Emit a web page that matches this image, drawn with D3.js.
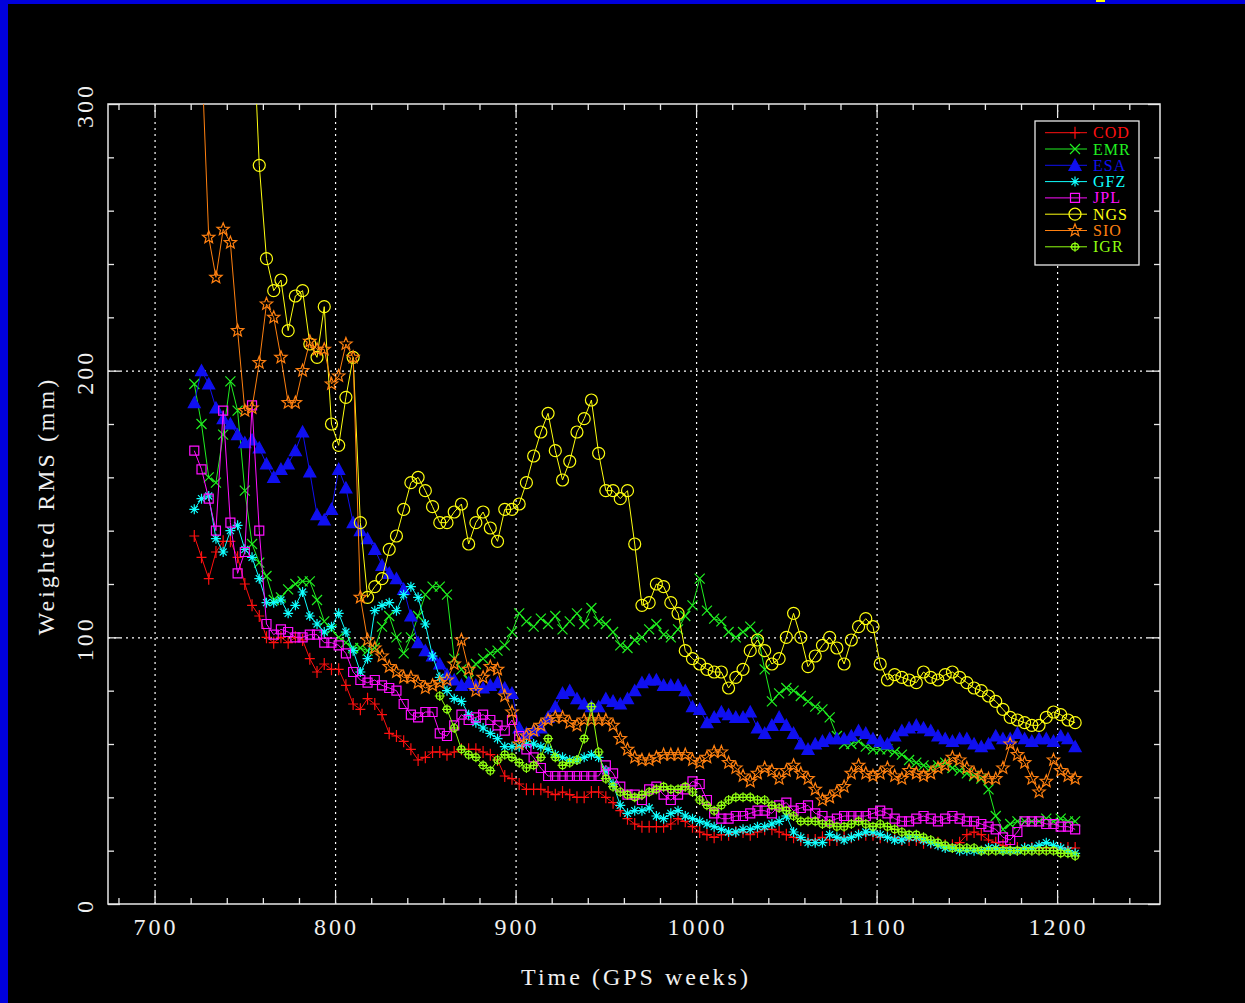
<!DOCTYPE html>
<html lang="en">
<head>
<meta charset="UTF-8">
<script src="https://d3js.org/d3.v7.min.js"></script>
<style>
body { margin: 0; background: #000; }
svg { display: block; }
.lbl { font-family: "Liberation Serif", "DejaVu Serif", serif; fill: #f0f0f0; }
</style>
</head>
<body>
<svg width="1245" height="1003"></svg>
<script>
// GPS weeks, one reading every 4 weeks
const weeks = [
  722,726,730,734,738,742,746,750,754,758,
  762,766,770,774,778,782,786,790,794,798,
  802,806,810,814,818,822,826,830,834,838,
  842,846,850,854,858,862,866,870,874,878,
  882,886,890,894,898,902,906,910,914,918,
  922,926,930,934,938,942,946,950,954,958,
  962,966,970,974,978,982,986,990,994,998,
  1002,1006,1010,1014,1018,1022,1026,1030,1034,1038,
  1042,1046,1050,1054,1058,1062,1066,1070,1074,1078,
  1082,1086,1090,1094,1098,1102,1106,1110,1114,1118,
  1122,1126,1130,1134,1138,1142,1146,1150,1154,1158,
  1162,1166,1170,1174,1178,1182,1186,1190,1194,1198,
  1202,1206,1210
];

// weighted RMS (mm) per analysis centre
const cod = [
  138,130,122,132,136,136,130,120,112,108,
  100,98,100,98,100,99,92,87,90,88,
  88,82,75,73,77,75,71,64,63,61,
  58,54,55,57,57,56,57,58,58,58,
  57,56,54,48,47,45,43,43,43,42,
  41,42,41,40,40,42,42,40,38,35,
  32,30,29,29,29,29,30,32,31,29,
  27,26,25,26,26,27,27,26,27,28,
  28,27,26,25,24,24,24,25,24,24,
  25,25,26,26,26,25,25,25,24,24,
  24,23,23,23,22,22,23,26,27,26,
  24,23,22,21,21,21,21,21,21,21,
  21,21,21
];
const emr = [
  195,180,160,158,176,196,185,155,135,128,
  123,114,115,118,120,121,121,114,106,103,
  100,98,96,96,95,96,104,108,100,94,
  100,108,116,119,119,116,92,88,84,90,
  92,94,95,97,102,109,106,104,107,105,
  108,103,106,109,105,111,106,105,102,97,
  96,99,100,103,105,101,100,103,108,112,
  122,110,107,106,102,100,102,104,101,88,
  76,79,81,80,78,76,74,73,70,63,
  60,60,61,59,58,58,58,57,56,54,
  53,52,51,52,53,51,50,49,48,47,
  43,33,28,30,31,31,31,31,32,31,
  32,31,31
];
const esa = [
  188,200,195,186,182,180,176,173,174,171,
  165,160,163,165,170,177,162,146,144,148,
  163,156,143,140,137,133,127,124,122,118,
  108,98,95,93,90,86,84,82,83,82,
  81,82,83,81,79,66,64,65,66,70,
  74,79,80,77,75,74,74,77,76,75,
  77,80,83,84,84,82,82,82,80,74,
  73,68,70,72,71,70,70,72,66,64,
  67,70,67,64,60,58,60,61,62,62,
  62,63,65,64,62,61,60,63,65,66,
  67,66,65,63,62,61,62,62,60,59,
  60,63,62,62,64,62,61,62,62,61,
  63,62,59
];
const gfz = [
  148,152,153,137,132,140,142,133,130,122,
  113,113,114,109,112,117,108,105,102,104,
  109,102,95,87,92,110,112,113,110,116,
  119,115,105,93,85,80,77,76,71,68,
  66,64,62,59,59,59,60,60,59,58,
  56,55,54,54,55,56,55,50,45,37,
  34,35,35,36,33,32,34,35,33,32,
  31,30,29,28,27,27,28,28,29,29,
  30,31,33,27,25,23,23,23,26,25,
  24,25,26,27,27,26,25,24,24,25,
  25,24,23,22,21,21,20,20,20,20,
  21,21,20,20,20,21,21,22,23,22,
  21,20,19
];
const jpl = [
  170,163,152,140,185,143,124,132,187,140,
  105,101,103,102,100,100,101,101,98,98,
  97,94,87,84,83,84,82,81,80,75,
  71,70,72,72,64,63,67,71,69,70,
  71,69,67,65,69,63,58,55,51,48,
  48,48,48,48,48,48,48,52,49,44,
  41,41,39,43,44,41,39,41,43,46,
  45,39,34,32,32,33,33,34,35,35,
  34,37,38,35,36,37,34,33,31,32,
  33,33,33,33,34,35,34,32,31,31,
  32,33,32,31,32,33,32,31,31,30,
  29,28,25,24,27,31,31,31,30,30,
  29,29,28
];
const ngs = [
  null,null,null,null,null,null,null,null,340,277,
  242,230,234,215,228,230,210,205,224,180,
  172,190,205,143,115,119,122,133,138,148,
  158,160,155,149,143,143,147,150,135,143,
  147,141,136,148,148,150,158,168,177,184,
  170,159,166,177,182,189,169,155,155,152,
  155,135,112,113,120,119,113,109,95,92,
  90,88,87,87,81,85,88,95,99,95,
  90,92,100,109,100,89,93,97,100,96,
  90,99,104,107,104,90,84,86,85,84,
  83,87,85,84,86,87,85,83,81,80,
  78,76,73,70,69,68,67,67,70,72,
  71,69,68
];
const sio = [
  null,320,250,235,253,248,215,185,186,203,
  225,220,205,188,188,200,211,208,208,195,
  198,210,205,115,99,96,93,89,87,85,
  85,83,81,82,83,84,90,99,88,80,
  85,89,88,78,72,60,63,65,67,69,
  70,70,68,67,69,69,69,69,67,62,
  58,55,54,54,55,56,56,56,56,54,
  53,55,57,57,53,51,48,46,49,51,
  50,47,50,52,49,47,43,39,40,42,
  44,49,52,49,48,49,51,48,47,50,
  49,48,49,51,52,55,54,51,49,48,
  47,47,51,60,56,53,47,42,46,54,
  50,48,47
];
const igr = [
  null,null,null,null,null,null,null,null,null,null,
  null,null,null,null,null,null,null,null,null,null,
  null,null,null,null,null,null,null,null,null,null,
  null,null,null,null,78,73,66,58,56,55,
  52,50,54,56,55,53,51,52,55,62,
  55,52,53,54,62,74,57,47,44,42,
  41,40,41,42,43,44,43,43,44,42,
  39,37,35,37,39,40,40,40,39,39,
  37,36,35,33,31,31,31,30,30,29,
  29,30,31,30,29,30,29,28,27,26,
  26,25,24,23,22,21,21,21,21,20,
  20,20,20,20,20,20,20,20,20,20,
  19,19,18
];

const centres = ["COD", "EMR", "ESA", "GFZ", "JPL", "NGS", "SIO", "IGR"];
const values = [cod, emr, esa, gfz, jpl, ngs, sio, igr];
const xMajor = [700, 800, 900, 1000, 1100, 1200];
const xMinor = [680, 720, 740, 760, 780, 820, 840, 860, 880, 920, 940, 960, 980,
  1020, 1040, 1060, 1080, 1120, 1140, 1160, 1180, 1220, 1240];
const yMajor = [0, 100, 200, 300];
const yMinor = [20, 40, 60, 80, 120, 140, 160, 180, 220, 240, 260, 280];

const colours = ["#ff1010", "#20f020", "#1010f0", "#10ffff", "#ff10ff", "#ffff10", "#ff8010", "#90ff10"];
const shapes = ["plus", "cross", "triangle", "asterisk", "square", "circle", "star", "igr"];

const W = 1245, H = 1003;
const pL = 108, pR = 1160, pT = 104, pB = 904;

const svg = d3.select("svg");
svg.append("rect").attr("width", W).attr("height", H).attr("fill", "#000");
// blue slide border (with the clipped edge of a yellow title glyph)
svg.append("rect").attr("width", W).attr("height", 4).attr("fill", "#0000dc");
svg.append("rect").attr("width", 8).attr("height", H).attr("fill", "#0000dc");
svg.append("rect").attr("x", 1096).attr("width", 9).attr("height", 2).attr("fill", "#ffff00");

const x = d3.scaleLinear().domain([674.2, 1257]).range([pL, pR]);
const y = d3.scaleLinear().domain([0, 300]).range([pB, pT]);

// dotted grid
const grid = svg.append("g");
grid.append("g").attr("transform", `translate(0,${pB})`)
  .call(d3.axisBottom(x).tickValues(xMajor).tickSize(-(pB - pT)).tickFormat(""));
grid.append("g").attr("transform", `translate(${pL},0)`)
  .call(d3.axisLeft(y).tickValues([100, 200]).tickSize(-(pR - pL)).tickFormat(""));
grid.selectAll(".domain").remove();
grid.selectAll("line").attr("stroke", "#ffffff").attr("stroke-width", 1.2).attr("stroke-dasharray", "2,4");

// inward ticks on all four sides
function ticks(axis, vals, size, tr) {
  const g = svg.append("g").attr("transform", tr)
    .call(axis.tickValues(vals).tickSize(size).tickSizeOuter(0).tickFormat(""));
  g.select(".domain").remove();
  g.selectAll("line").attr("stroke", "#e8e8e8").attr("stroke-width", 1.3);
}
ticks(d3.axisBottom(x), xMajor, -12, `translate(0,${pB})`);
ticks(d3.axisBottom(x), xMinor, -6, `translate(0,${pB})`);
ticks(d3.axisTop(x), xMajor, -12, `translate(0,${pT})`);
ticks(d3.axisTop(x), xMinor, -6, `translate(0,${pT})`);
ticks(d3.axisLeft(y), yMajor, -12, `translate(${pL},0)`);
ticks(d3.axisLeft(y), yMinor, -6, `translate(${pL},0)`);
ticks(d3.axisRight(y), yMajor, -12, `translate(${pR},0)`);
ticks(d3.axisRight(y), yMinor, -6, `translate(${pR},0)`);

svg.append("rect").attr("x", pL).attr("y", pT)
  .attr("width", pR - pL).attr("height", pB - pT)
  .attr("fill", "none").attr("stroke", "#e8e8e8").attr("stroke-width", 1.5);

// tick labels
svg.selectAll(".xl").data(xMajor).join("text").attr("class", "lbl")
  .attr("x", d => x(d) + 1.5).attr("y", 935).attr("text-anchor", "middle")
  .style("font-size", "24px").style("letter-spacing", "3px").text(d => d);
svg.selectAll(".yl").data(yMajor).join("text").attr("class", "lbl")
  .attr("transform", d => `translate(93,${y(d) + 1.5}) rotate(-90)`).attr("text-anchor", "middle")
  .style("font-size", "24px").style("letter-spacing", "3px").text(d => d);

svg.append("text").attr("class", "lbl").attr("x", 636).attr("y", 985)
  .attr("text-anchor", "middle").style("font-size", "24px").style("letter-spacing", "3px")
  .text("Time (GPS weeks)");
svg.append("text").attr("class", "lbl").attr("transform", "translate(54,506) rotate(-90)")
  .attr("text-anchor", "middle").style("font-size", "24px").style("letter-spacing", "3px")
  .text("Weighted RMS (mm)");

// marker shapes
function marker(shape) {
  const s = 5;
  switch (shape) {
    case "plus": return `M${-s},0H${s}M0,${-s - 1}V${s + 1}`;
    case "cross": return `M${-s},${-s}L${s},${s}M${-s},${s}L${s},${-s}`;
    case "triangle": return `M0,${-s - 1}L${s + 1},${s}L${-s - 1},${s}Z`;
    case "asterisk": return `M${-s},0H${s}M0,${-s}V${s}M${-s * 0.7},${-s * 0.7}L${s * 0.7},${s * 0.7}M${-s * 0.7},${s * 0.7}L${s * 0.7},${-s * 0.7}`;
    case "square": return `M${-s + 0.5},${-s + 0.5}h${2 * s - 1}v${2 * s - 1}h${-2 * s + 1}Z`;
    case "circle": return `M${s + 1},0A${s + 1},${s + 1} 0 1,1 ${-s - 1},0A${s + 1},${s + 1} 0 1,1 ${s + 1},0Z`;
    case "star": {
      const pts = d3.range(10).map(k => {
        const a = -Math.PI / 2 + k * Math.PI / 5, r = k % 2 ? 2.8 : 6.5;
        return [r * Math.cos(a), r * Math.sin(a)];
      });
      return "M" + pts.map(p => p.join(",")).join("L") + "Z";
    }
    case "igr": return `M3.5,0A3.5,3.5 0 1,1 -3.5,0A3.5,3.5 0 1,1 3.5,0ZM0,-5V5M-5,0H5`;
  }
}

svg.append("clipPath").attr("id", "plotclip").append("rect")
  .attr("x", pL).attr("y", pT).attr("width", pR - pL).attr("height", pB - pT);

const plot = svg.append("g").attr("clip-path", "url(#plotclip)");
const line = d3.line().defined(d => d[1] != null).x(d => x(d[0])).y(d => y(d[1]));

centres.forEach((name, i) => {
  const pts = weeks.map((w, k) => [w, values[i][k] == null ? null : values[i][k]]);
  const g = plot.append("g");
  g.append("path").datum(pts).attr("d", line)
    .attr("fill", "none").attr("stroke", colours[i]).attr("stroke-width", 1);
  const filled = shapes[i] === "triangle";
  g.selectAll("path.m").data(pts.filter(d => d[1] != null)).join("path").attr("class", "m")
    .attr("transform", d => `translate(${x(d[0])},${y(d[1])})`)
    .attr("d", marker(shapes[i]))
    .attr("fill", filled ? colours[i] : "none")
    .attr("stroke", colours[i]).attr("stroke-width", 1.2);
});

// legend
const lg = svg.append("g");
lg.append("rect").attr("x", 1035).attr("y", 121).attr("width", 104).attr("height", 144)
  .attr("fill", "#000").attr("stroke", "#e8e8e8").attr("stroke-width", 1.3);
centres.forEach((name, i) => {
  const ly = 132.7 + i * 16.3;
  lg.append("line").attr("x1", 1045).attr("x2", 1087).attr("y1", ly).attr("y2", ly)
    .attr("stroke", colours[i]).attr("stroke-width", 1);
  lg.append("path").attr("transform", `translate(1075,${ly})`).attr("d", marker(shapes[i]))
    .attr("fill", shapes[i] === "triangle" ? colours[i] : "none")
    .attr("stroke", colours[i]).attr("stroke-width", 1.2);
  lg.append("text").attr("x", 1093).attr("y", ly + 5.5).attr("fill", colours[i])
    .style("font", "16px 'Liberation Serif', serif").style("letter-spacing", "1px").text(name);
});
</script>
</body>
</html>
